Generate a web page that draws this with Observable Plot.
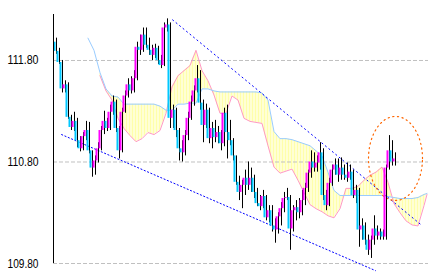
<!DOCTYPE html>
<html><head><meta charset="utf-8">
<script src="https://cdn.jsdelivr.net/npm/d3@7"></script>
<script src="https://cdn.jsdelivr.net/npm/@observablehq/plot@0.6"></script>
<style>html,body{margin:0;padding:0;background:#fff;overflow:hidden}</style>
</head><body><div id="chart"></div>
<script>
// ---- data (USD/JPY style candles, index = bar number) ----
const firstOpen = 111.98;
const closes = [111.89,111.78,111.52,111.56,111.24,111.14,111.20,111.01,110.93,111.05,
 111.11,110.91,110.74,110.81,110.93,111.11,111.20,111.13,111.29,111.39,
 111.13,110.91,111.29,111.45,111.56,111.50,111.62,111.93,111.90,112.05,
 111.95,111.90,111.85,111.92,111.80,111.75,112.12,112.15,111.23,111.31,
 111.11,110.93,110.89,111.06,111.23,111.39,111.50,111.62,111.38,111.16,
 111.31,111.03,111.13,111.04,111.09,110.98,111.28,111.09,111.01,110.86,
 110.60,110.50,110.57,110.64,110.57,110.64,110.50,110.39,110.36,110.46,
 110.25,110.32,110.17,110.13,110.26,110.34,110.44,110.45,110.14,110.32,
 110.35,110.30,110.42,110.54,110.69,110.80,110.74,110.79,110.89,110.47,
 110.37,110.59,110.72,110.77,110.67,110.74,110.67,110.64,110.70,110.47,
 110.52,110.13,110.17,110.03,109.93,110.03,110.14,110.07,110.11,110.06,
 110.74,110.91,110.80,110.83];
const highs = [112.02,111.92,111.80,111.60,111.58,111.26,111.29,111.23,111.05,111.09,
 111.20,111.19,110.91,110.86,110.99,111.15,111.30,111.23,111.36,111.45,
 111.41,111.15,111.33,111.50,111.62,111.64,111.70,111.98,112.05,112.12,
 112.12,112.02,111.95,111.96,111.94,111.85,112.17,112.21,112.17,111.36,
 111.33,111.13,111.01,111.11,111.29,111.45,111.55,111.75,111.70,111.41,
 111.37,111.33,111.19,111.21,111.15,111.11,111.33,111.36,111.21,111.03,
 110.86,110.66,110.62,110.72,110.80,110.74,110.67,110.54,110.47,110.52,
 110.47,110.37,110.37,110.24,110.30,110.40,110.50,110.54,110.47,110.37,
 110.42,110.44,110.52,110.59,110.72,110.91,110.89,110.86,110.99,110.93,
 110.52,110.64,110.77,110.83,110.83,110.84,110.77,110.79,110.77,110.72,
 110.57,110.54,110.24,110.20,110.08,110.07,110.27,110.17,110.14,110.13,
 110.77,111.06,111.01,110.89];
const lows = [111.86,111.76,111.48,111.48,111.22,111.11,111.10,110.94,110.90,110.91,
 111.01,110.88,110.65,110.67,110.79,110.91,111.07,111.10,111.11,111.26,
 111.09,110.83,110.89,111.28,111.43,111.47,111.48,111.60,111.85,111.88,
 111.92,111.85,111.80,111.82,111.76,111.72,111.74,112.08,111.13,111.13,
 111.04,110.81,110.80,110.86,111.01,111.21,111.35,111.48,111.31,110.99,
 111.13,110.98,110.93,110.99,110.98,110.91,110.95,110.83,110.96,110.81,
 110.57,110.42,110.34,110.47,110.52,110.50,110.44,110.36,110.32,110.34,
 110.22,110.20,110.11,110.00,110.09,110.17,110.30,110.42,109.93,110.11,
 110.22,110.24,110.27,110.37,110.50,110.64,110.70,110.70,110.72,110.42,
 110.32,110.36,110.56,110.67,110.60,110.62,110.62,110.60,110.62,110.44,
 110.39,109.96,110.03,109.98,109.88,109.85,109.98,110.03,110.03,110.03,
 110.03,110.72,110.76,110.76];

// Ichimoku cloud (leading spans), sampled at these bar indices
const cloudIdx = [11,13,15,17,19,21,23,25,27,29,31,33,35,37,39,41,43,45,47,49,
 51,53,55,57,59,61,63,65,67,69,71,73,75,77,79,81,83,85,87,89,
 91,93,95,97,99,101,103,105,107,109,111,113,115,117,119,121,123,124];
const spanA = [112.02,111.90,111.68,111.52,111.45,111.44,111.37,111.37,111.37,111.37,
 111.37,111.37,111.35,111.31,111.31,111.37,111.37,111.38,111.38,111.52,
 111.52,111.50,111.49,111.49,111.49,111.49,111.49,111.49,111.49,111.48,
 111.41,111.10,111.03,111.03,111.02,111.00,110.98,110.96,110.91,110.86,
 110.70,110.52,110.47,110.47,110.47,110.47,110.47,110.47,110.47,110.47,
 110.46,110.45,110.44,110.44,110.44,110.45,110.48,110.49];
const spanB = [null,null,111.65,111.50,111.41,111.23,111.13,111.06,111.00,111.03,
 111.09,111.07,111.11,111.28,111.54,111.65,111.70,111.75,111.90,111.70,
 111.60,111.46,111.28,111.28,111.45,111.41,111.23,111.20,111.19,111.18,
 110.96,110.75,110.69,110.71,110.73,110.62,110.50,110.38,110.34,110.31,
 110.27,110.25,110.34,110.54,110.54,110.56,110.62,110.67,110.70,110.75,
 110.60,110.39,110.30,110.22,110.18,110.17,110.37,110.48];

const yTicks = [111.80, 110.80, 109.80];
const yTickLabels = ["111.80", "110.80", "109.80"];

// trend channel (bar index, price) and highlighted ellipse
const trendUpper = [{i: 39.2, p: 112.20}, {i: 122.5, p: 110.17}];
const trendLower = [{i: 2.2, p: 111.07}, {i: 106.8, p: 109.73}];
const ellipse = {i: 113.5, p: 110.835, ri: 9, rp: 0.414};

// ---- build ----
const candles = closes.map((c, i) => ({i, o: i ? closes[i - 1] : firstOpen, h: highs[i], l: lows[i], c}));
const up = candles.filter(d => d.c >= d.o);
const down = candles.filter(d => d.c < d.o);
const cloud = cloudIdx.map((i, k) => ({i, a: spanA[k], b: spanB[k]}));
const ellipsePts = d3.range(0, 361, 4).map(t => ({
  i: ellipse.i + ellipse.ri * Math.cos(t * Math.PI / 180),
  p: ellipse.p + ellipse.rp * Math.sin(t * Math.PI / 180)
}));

const svg = Plot.plot({
  width: 434, height: 276,
  marginLeft: 53, marginRight: 6, marginTop: 14, marginBottom: 13,
  x: {domain: [-0.5, 124.5], axis: null},
  y: {domain: [109.80, 112.253], axis: null},
  style: {background: "#fff", overflow: "visible"},
  marks: [
    Plot.areaY(cloud, {x: "i", y1: "a", y2: "b", fill: "url(#kumo)"}),
    Plot.ruleY(yTicks, {stroke: "#c0c0c0", strokeDasharray: "4,2"}),
    Plot.line(cloud, {x: "i", y: "b", stroke: "#ff99c4", strokeWidth: 1}),
    Plot.line(cloud, {x: "i", y: "a", stroke: "#99ccff", strokeWidth: 1}),
    Plot.line(trendUpper, {x: "i", y: "p", stroke: "#0000ff", strokeWidth: 1, strokeDasharray: "1.2,3.3"}),
    Plot.line(trendLower, {x: "i", y: "p", stroke: "#0000ff", strokeWidth: 1, strokeDasharray: "1.2,2.4"}),
    Plot.line(ellipsePts, {x: "i", y: "p", stroke: "#ff6600", strokeWidth: 1.2, strokeDasharray: "1.2,3.5", curve: "linear"}),
    Plot.ruleX(candles, {x: d => d.i + 1/6, y1: "l", y2: "h", stroke: "#000", strokeWidth: 1, dx: 1}),
    Plot.rect(up, {x1: d => d.i - 0.5, x2: d => d.i + 1/6, y1: "o", y2: "c", fill: "#ff00ff", dx: 0.5}),
    Plot.rect(down, {x1: d => d.i - 0.5, x2: d => d.i + 1/6, y1: "o", y2: "c", fill: "#00c8ff", dx: 0.5}),
    Plot.ruleX([-0.5], {stroke: "#000", strokeWidth: 1}),
    Plot.text(yTicks, {y: d => d, text: (d, k) => yTickLabels[k], frameAnchor: "left", textAnchor: "end", dx: -15,
      fill: "#000", fontSize: 12.5, fontFamily: "'Liberation Sans Narrow','Arial Narrow','Liberation Sans',sans-serif"})
  ]
});

const defs = document.createElementNS("http://www.w3.org/2000/svg", "defs");
defs.innerHTML = '<pattern id="kumo" patternUnits="userSpaceOnUse" x="-0.5" y="0" width="3" height="10"><rect x="0" y="0" width="2" height="10" fill="#ffffaa"/></pattern>';
svg.insertBefore(defs, svg.firstChild);
svg.querySelectorAll('g[aria-label="text"] text').forEach(t => {
  t.setAttribute("textLength", "31");
  t.setAttribute("lengthAdjust", "spacingAndGlyphs");
});
document.getElementById("chart").appendChild(svg);
</script>
</body></html>
